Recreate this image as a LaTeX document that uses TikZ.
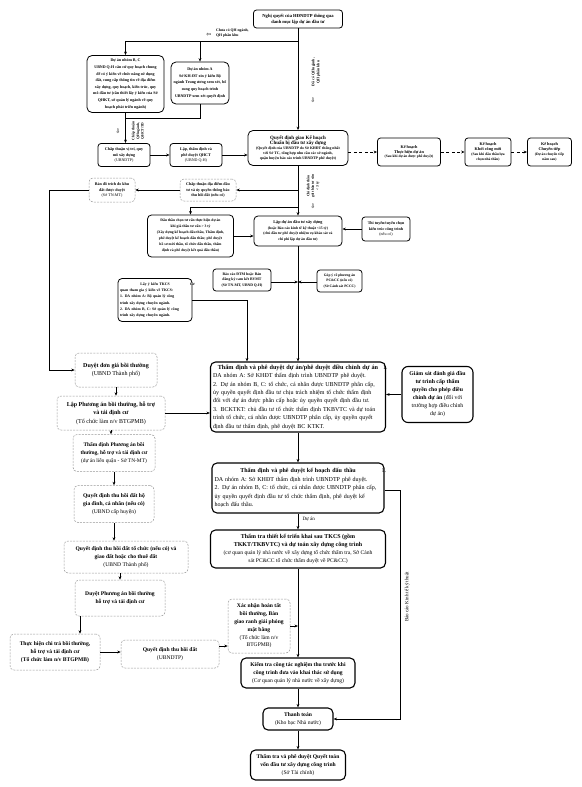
\documentclass[tikz,border=0pt]{standalone}
\usepackage{fontspec}
\setmainfont{Liberation Serif}
\newfontfamily\arrfont{DejaVu Sans}
\usetikzlibrary{arrows.meta,calc}
\newcommand\fsz[2]{\fontsize{#1}{#2}\selectfont}
\tikzset{
 box/.style={draw, line width=0.8pt, rounded corners=3pt, align=center, inner sep=1pt, fill=white},
 bigbox/.style={draw, line width=1.1pt, rounded corners=5pt, inner sep=2pt, fill=white},
 faint/.style={draw=black!40, dash pattern=on 2pt off 1.2pt, line width=0.5pt, rounded corners=4pt, align=center, inner sep=1pt, fill=white},
 arr/.style={-{Stealth[length=3.5pt,width=2.8pt]}, line width=0.6pt},
 ln/.style={line width=0.6pt},
 darr/.style={-{Stealth[length=3.5pt,width=2.8pt]}, line width=0.8pt, dash pattern=on 3pt off 2.5pt},
 lbl/.style={inner sep=0pt, align=center},
}
\begin{document}
\begin{tikzpicture}[x=1pt,y=-1pt]
\fill[white] (0,0) rectangle (581,787);
\useasboundingbox (0,0) rectangle (581,787);

% ---------- top ----------
\node[box, minimum width=89pt, minimum height=18pt, font=\fsz{4.6}{6}\bfseries] (nq) at (298,19) {Nghị quyết của HĐNDTP thông qua\\danh mục lập dự án đầu tư};

\node[box, rounded corners=5pt, minimum width=77pt, minimum height=57pt, font=\fsz{4}{6.6}\bfseries] (bc) at (125.5,84) {Dự án nhóm B, C\\UBND Q-H căn cứ quy hoạch chung\\để có ý kiến về chức năng sử dụng\\đất, cung cấp thông tin về địa điểm\\xây dựng, quy hoạch, kiến trúc, quy\\mô đầu tư (cần thiết lấy ý kiến của Sở\\QHKT, sở quản lý ngành về quy\\hoạch phát triển ngành)};

\node[box, rounded corners=5pt, minimum width=58pt, minimum height=42pt, font=\fsz{4}{6.8}\bfseries] (na) at (200,83) {Dự án nhóm A\\Sở KH-ĐT xin ý kiến Bộ\\ngành Trung ương xem xét, bổ\\sung quy hoạch trình\\UBNDTP xem xét quyết định};

\node[lbl, anchor=west, align=left, font=\fsz{3.8}{5}\bfseries] (lchua) at (216,33) {Chưa có QH ngành,\\QH phân khu};
\node[lbl, font=\arrfont\fsz{6}{6}] (ichua) at (209,35) {⇦};
\node[lbl, rotate=90, font=\fsz{3.8}{5}\bfseries] (ldaco) at (316,72) {Đã có QH ngành,\\QH phân khu};
\node[lbl, font=\arrfont\fsz{6}{6}] (idaco) at (313,100) {⇩};
\node[lbl, rotate=90, font=\fsz{3.6}{4.6}\bfseries] (lchap) at (138,131) {Chấp thuận\\QH ngành,\\QHCT/TD};
\node[lbl, font=\arrfont\fsz{6}{6}] (ichap) at (118,131) {⇩};

% ---------- row 2 ----------
\node[box, minimum width=52pt, minimum height=23pt, font=\fsz{4}{5.6}\bfseries] (ct) at (124,155) {Chấp thuận vị trí, quy\\mô xây dựng\\{\mdseries(UBNDTP)}};
\node[box, minimum width=52pt, minimum height=23pt, font=\fsz{4}{5.6}\bfseries] (qh) at (196,155) {Lập, thẩm định và\\phê duyệt QHCT\\{\mdseries(UBND Q-H)}};
\node[box, rounded corners=5pt, minimum width=100pt, minimum height=35pt, font=\fsz{3.8}{5}\bfseries] (qd) at (298,148) {{\fsz{5}{6.2}\bfseries Quyết định giao Kế hoạch}\\{\fsz{5}{6.2}\bfseries Chuẩn bị đầu tư xây dựng}\\(Quyết định của UBNDTP do Sở KHĐT thống nhất\\với Sở TC, tổng hợp nhu cầu các sở ngành,\\quận huyện báo cáo trình UBNDTP phê duyệt)};
\node[box, minimum width=63pt, minimum height=28pt, font=\fsz{3.6}{4.8}\bfseries] (k1) at (409,152) {{\fsz{4.2}{5.4}\bfseries Kế hoạch}\\{\fsz{4.2}{5.4}\bfseries Thực hiện dự án}\\(Sau khi dự án được phê duyệt)};
\node[box, minimum width=46pt, minimum height=28pt, font=\fsz{3.6}{4.8}\bfseries] (k2) at (488,152) {{\fsz{4.2}{5.4}\bfseries Kế hoạch}\\{\fsz{4.2}{5.4}\bfseries Khởi công mới}\\(Sau khi đấu thầu lựa\\chọn nhà thầu)};
\node[box, minimum width=44pt, minimum height=28pt, font=\fsz{3.6}{4.8}\bfseries] (k3) at (549.5,152) {{\fsz{4.2}{5.4}\bfseries Kế hoạch}\\{\fsz{4.2}{5.4}\bfseries Chuyển tiếp}\\(Dự án chuyển tiếp\\năm sau)};

\node[faint, minimum width=56pt, minimum height=22pt, font=\fsz{4}{5.6}\bfseries] (cq) at (208,190) {Chấp thuận địa điểm đầu\\tư và ủy quyền thông báo\\thu hồi đất (nếu có)};
\node[faint, minimum width=46pt, minimum height=24pt, font=\fsz{4}{5.6}\bfseries] (bd) at (112,190) {Bản đồ trích đo khu\\đất được duyệt\\{\mdseries(Sở TN-MT)}};
\node[lbl, rotate=90, font=\fsz{3.6}{4.6}\bfseries] (lcd) at (313,186) {Chỉ định thầu\\gói thầu tư vấn\\< 3 tỷ};
\node[lbl, font=\arrfont\fsz{6}{6}] (icd) at (313,206) {⇩};

\node[box, rounded corners=4pt, minimum width=86pt, minimum height=42pt, font=\fsz{3.7}{6}\bfseries] (dt) at (190.5,236) {Đấu thầu chọn tư vấn thực hiện dự án\\khi giá thầu tư vấn > 3 tỷ\\(Xây dựng kế hoạch đấu thầu, Thẩm định,\\phê duyệt kế hoạch đấu thầu; phê duyệt\\hồ sơ mời thầu, tổ chức đấu thầu, thẩm\\định và phê duyệt kết quả đấu thầu)};
\node[box, rounded corners=4pt, minimum width=88pt, minimum height=30pt, font=\fsz{3.7}{5.6}\bfseries] (ld) at (298,231) {{\fsz{4.2}{5.8}\bfseries Lập dự án đầu tư xây dựng}\\(hoặc Báo cáo kinh tế kỹ thuật <15 tỷ)\\(chủ đầu tư phê duyệt nhiệm vụ khảo sát và\\chi phí lập dự án đầu tư)};
\node[box, minimum width=48pt, minimum height=24pt, font=\fsz{4}{5.6}\bfseries] (tt) at (386,229) {Thi tuyển/tuyển chọn\\kiến trúc công trình\\{\mdseries(nếu có)}};

\node[box, minimum width=58pt, minimum height=22pt, font=\fsz{3.8}{5.4}\bfseries] (dtm) at (242,280) {Báo cáo ĐTM hoặc Bản\\đăng ký cam kết BVMT\\(Sở TN-MT, UBND Q-H)};
\node[box, minimum width=45pt, minimum height=22pt, font=\fsz{3.6}{5.4}\bfseries] (pc) at (339.5,281) {Góp ý về phương án\\PC\&CC (nếu có)\\(Sở Cảnh sát PCCC)};
\node[box, rounded corners=4pt, minimum width=74pt, minimum height=43pt, text width=70pt, align=left, font=\fsz{3.8}{6.2}\bfseries] (lk) at (155,300) {\centerline{Lấy ý kiến TKCS}Cơ quan tham gia ý kiến về TKCS:\\1. DA nhóm A: Bộ quản lý công\\trình xây dựng chuyên ngành.\\2. DA nhóm B, C: Sở quản lý công\\trình xây dựng chuyên ngành.};

% ---------- main column ----------
\node[bigbox, minimum width=175pt, minimum height=70pt, text width=170pt, align=left, font=\fsz{6}{8.4}] (td) at (298,397) {\centerline{\bfseries\fsz{6.2}{8.4}Thẩm định và phê duyệt dự án/phê duyệt điều chỉnh dự án}1. DA nhóm A: Sở KHĐT thẩm định trình UBNDTP phê duyệt.\\2. Dự án nhóm B, C: tổ chức, cá nhân được UBNDTP phân cấp,\\ủy quyền quyết định đầu tư chịu trách nhiệm tổ chức thẩm định\\đối với dự án được phân cấp hoặc ủy quyền quyết định đầu tư.\\3. BCKTKT: chủ đầu tư tổ chức thẩm định TKBVTC và dự toán\\trình tổ chức, cá nhân được UBNDTP phân cấp, ủy quyền quyết\\định đầu tư thẩm định, phê duyệt BC KTKT.};
\node[bigbox, rounded corners=6pt, minimum width=71pt, minimum height=56pt, align=center, font=\fsz{5.8}{8}\bfseries] (gs) at (437.5,394.5) {Giám sát đánh giá đầu\\tư trình cấp thẩm\\quyền cho phép điều\\chỉnh dự án {\mdseries(đối với}\\{\mdseries trường hợp điều chỉnh}\\{\mdseries dự án)}};
\node[bigbox, minimum width=172pt, minimum height=50pt, text width=167pt, align=left, font=\fsz{6}{8.6}] (kh) at (298,488) {\centerline{\bfseries Thẩm định và phê duyệt kế hoạch đấu thầu}1. DA nhóm A: Sở KHĐT thẩm định trình UBNDTP phê duyệt.\\2. Dự án nhóm B, C: tổ chức, cá nhân được UBNDTP phân cấp,\\ủy quyền quyết định đầu tư tổ chức thẩm định, phê duyệt kế\\hoạch đấu thầu.};
\node[bigbox, minimum width=175pt, minimum height=38pt, align=center, font=\fsz{5.6}{7.8}] (tr) at (298,549) {{\bfseries\fsz{6}{7.8}Thẩm tra thiết kế triển khai sau TKCS (gồm}\\{\bfseries\fsz{6}{7.8}TKKT/TKBVTC) và dự toán xây dựng công trình}\\(cơ quan quản lý nhà nước về xây dựng tổ chức thẩm tra, Sở Cảnh\\sát PC\&CC tổ chức thẩm duyệt về PC\&CC)};
\node[bigbox, minimum width=114pt, minimum height=30pt, align=center, font=\fsz{5.6}{7.8}] (kt) at (298,673) {{\bfseries Kiểm tra công tác nghiệm thu trước khi}\\{\bfseries công trình đưa vào khai thác sử dụng}\\(Cơ quan quản lý nhà nước về xây dựng)};
\node[bigbox, minimum width=70pt, minimum height=22pt, align=center, font=\fsz{5.6}{7.8}] (tn) at (298,719) {{\bfseries Thanh toán}\\(Kho bạc Nhà nước)};
\node[bigbox, minimum width=95pt, minimum height=30pt, align=center, font=\fsz{5.6}{7.8}] (qt) at (298,765) {{\bfseries Thẩm tra và phê duyệt Quyết toán}\\{\bfseries vốn đầu tư xây dựng công trình}\\(Sở Tài chính)};

% ---------- left column ----------
\node[faint, minimum width=82pt, minimum height=34pt, font=\fsz{6}{8.5}] (dg) at (116,370) {{\bfseries Duyệt đơn giá bồi thường}\\(UBND Thành phố)};
\node[faint, minimum width=108pt, minimum height=34pt, font=\fsz{6}{8.5}] (lp) at (111,413) {{\bfseries Lập Phương án bồi thường, hỗ trợ}\\{\bfseries và tái định cư}\\(Tổ chức làm n/v BTGPMB)};
\node[faint, minimum width=82pt, minimum height=37pt, font=\fsz{5.4}{8}] (tp) at (114,453) {{\bfseries Thẩm định Phương án bồi}\\{\bfseries thường, hỗ trợ và tái định cư}\\(dự án liên quận - Sở TN-MT)};
\node[faint, minimum width=80pt, minimum height=37pt, font=\fsz{5.6}{8}] (qa) at (114,504) {{\bfseries Quyết định thu hồi đất hộ}\\{\bfseries gia đình, cá nhân (nếu có)}\\(UBND cấp huyện)};
\node[faint, minimum width=124pt, minimum height=32pt, font=\fsz{5.6}{8}] (qb) at (126,557) {{\bfseries Quyết định thu hồi đất tổ chức (nếu có) và}\\{\bfseries giao đất hoặc cho thuê đất}\\(UBND Thành phố)};
\node[faint, minimum width=90pt, minimum height=36pt, font=\fsz{5.6}{8}] (dp) at (120,598) {{\bfseries Duyệt Phương án bồi thường}\\{\bfseries hỗ trợ và tái định cư}};
\node[faint, minimum width=90pt, minimum height=36pt, font=\fsz{5.6}{7.8}\bfseries] (th) at (55,652) {Thực hiện chi trả bồi thường,\\hỗ trợ và tái định cư\\(Tổ chức làm n/v BTGPMB)};
\node[faint, minimum width=98pt, minimum height=28pt, font=\fsz{5.6}{8}] (qdd) at (170,654) {{\bfseries Quyết định thu hồi đất}\\(UBNDTP)};
\node[faint, minimum width=62pt, minimum height=54pt, font=\fsz{5.6}{7.8}] (xn) at (259,626) {{\bfseries Xác nhận hoàn tất}\\{\bfseries bồi thường, Bàn}\\{\bfseries giao ranh giải phóng}\\{\bfseries mặt bằng}\\(Tổ chức làm n/v\\BTGPMB)};

% ---------- connectors ----------
\coordinate (j1) at (298,41);
\draw[arr] (nq) -- (qd);
\draw[arr] (j1) -| (bc.north);
\draw[arr] (na.north |- j1) -- (na.north);
\draw[arr] (bc.south) -- (bc.south |- ct.north);
\draw[ln] (na.south) -- ++(0,14) -| (bc.south);
\draw[arr] (ct) -- (qh);
\draw[arr] (qh.east) -- (qh.east -| qd.west);
\draw[darr] (k1.west -| qd.east) -- (k1.west);
\draw[darr] (k1) -- (k2);
\draw[darr] (k2) -- (k3);

\draw[arr] (qd) -- (ld);
\coordinate (j2) at (298,190);
\draw[arr] (j2) -- (cq);
\draw[arr] (cq) -- (bd);
\coordinate (j3) at (49,190);
\draw[arr] (bd.west) -- (j3) |- (dg.west);
\coordinate (j4) at (298,207);
\draw[arr] (j4) -| (dt.north);
\draw[arr] (dt.east) -- (dt.east -| ld.west);
\draw[arr] (tt.west) -- (tt.west -| ld.east);

\draw[arr] (ld) -- (td);
\coordinate (j5) at (298,282);
\draw[arr] (dtm.east |- j5) -- (j5);
\draw[arr] (pc.west |- j5) -- (j5);
\coordinate (j6) at (247,300);
\draw[arr] (lk.east) -- (j6) -- (j6 |- td.north);
\draw[arr] (gs.west) -- (gs.west -| td.east);

\draw[arr] (dg.south) -- (dg.south |- lp.north);
\draw[arr] (lp.south) -- (lp.south |- tp.north);
\draw[arr] (tp.south) -- (tp.south |- qa.north);
\draw[arr] (qa.south) -- (qa.south |- qb.north);
\draw[arr] (dp.north |- qb.south) -- (dp.north);
\coordinate (d1) at ($(dp.south)+(-40,0)$);
\draw[arr] (d1) -- (d1 |- th.north);
\draw[arr] (lp.east) -- (lp.east -| td.west);
\draw[arr] (th.east) -- (th.east -| qdd.west);
\coordinate (q1) at ($(qdd.east)+(0,-8)$);
\draw[arr] (q1) -- (q1 -| xn.west);
\coordinate (j7) at (298,626);
\draw[arr] (xn.east |- j7) -- (j7);

\draw[arr] (td) -- (kh);
\draw[arr] (kh) -- node[pos=0.35, right=1pt, font=\fsz{5}{6}] (lda) {Dự án} (tr);
\draw[arr] (tr) -- (kt);
\draw[arr] (kt) -- (tn);
\draw[arr] (tn) -- (qt);
\coordinate (j8) at (400,490);
\coordinate (j9) at (400,719);
\draw[arr] (kh.east |- j8) -- (j8) -- (j9) -- (tn.east);
\node[lbl, rotate=90, font=\fsz{5}{6}] (lbc) at (407,597) {Báo cáo Kinh tế kỹ thuật};
\end{tikzpicture}
\end{document}
